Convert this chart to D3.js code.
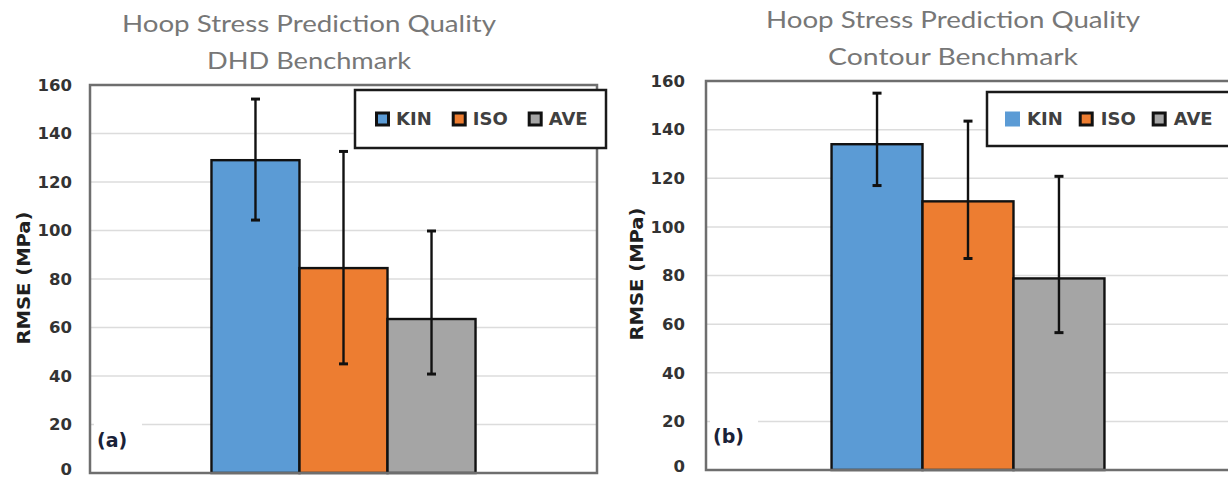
<!DOCTYPE html>
<html>
<head>
<meta charset="utf-8">
<script src="https://cdn.jsdelivr.net/npm/d3@7"></script>
<style>
  html, body { margin: 0; padding: 0; background: #fff; }
  svg { display: block; }
</style>
</head>
<body>
<svg id="chart" width="1228" height="479"></svg>
<script>
// ---- data ----
const series = ["KIN", "ISO", "AVE"];
const seriesColors = ["#5b9bd5", "#ed7d31", "#a5a5a5"];
const yTicks = [0, 20, 40, 60, 80, 100, 120, 140, 160];

const dhdTitle = ["Hoop Stress Prediction Quality", "DHD Benchmark"];
const dhdValues = [129, 84.5, 63.5];
const dhdLower = [104.3, 45, 40.8];
const dhdUpper = [154.2, 132.6, 99.8];

const contourTitle = ["Hoop Stress Prediction Quality", "Contour Benchmark"];
const contourValues = [134, 110.5, 78.8];
const contourLower = [117, 87, 56.5];
const contourUpper = [155, 143.5, 120.8];

const yTitle = "RMSE (MPa)";

// ---- drawing ----
const svg = d3.select("#chart");

function drawPanel(o) {
  const g = svg.append("g");
  const y = d3.scaleLinear().domain([0, 160]).range([o.bottom, o.top]);
  const xOuter = d3.scaleBand().domain([o.category]).range([o.left, o.right])
    .paddingInner(0).paddingOuter(0.46);
  const xInner = d3.scaleBand().domain(series).range([0, xOuter.bandwidth()]);

  // titles
  o.title.forEach((t, i) => {
    g.append("text")
      .attr("x", o.titleX).attr("y", o.titleY + i * 37)
      .attr("text-anchor", "middle")
      .attr("font-family", "Lato, 'Open Sans', sans-serif")
      .attr("font-size", 24)
      .attr("fill", "#777777")
      .attr("textLength", o.titleLens[i])
      .attr("lengthAdjust", "spacingAndGlyphs")
      .text(t);
  });

  // gridlines
  g.append("g").selectAll("line").data(yTicks.filter(d => d > 0 && d < 160)).join("line")
    .attr("x1", o.left).attr("x2", o.right)
    .attr("y1", d => y(d)).attr("y2", d => y(d))
    .attr("stroke", "#dcdcdc").attr("stroke-width", 1.5);

  // panel label with white background
  g.append("rect")
    .attr("x", o.left + 4).attr("y", y(20) - 12)
    .attr("width", 48).attr("height", 40)
    .attr("fill", "#fff");
  g.append("text")
    .attr("x", o.left + 7).attr("y", y(20) + 22)
    .attr("font-family", "'DejaVu Sans', sans-serif")
    .attr("font-weight", "bold")
    .attr("font-size", 19)
    .attr("fill", "#1a2238")
    .text(o.label);

  // y axis tick labels
  const yAxis = d3.axisLeft(y).tickValues(yTicks).tickSize(0).tickPadding(0);
  const ax = g.append("g").attr("transform", `translate(${o.tickX},0)`).call(yAxis);
  ax.select(".domain").remove();
  ax.selectAll("text")
    .attr("font-family", "'DejaVu Sans', sans-serif")
    .attr("font-weight", "bold")
    .attr("font-size", 16.5)
    .attr("fill", "#333333")
    .attr("dy", d => d === 0 ? "0.08em" : "0.32em");

  // y title
  g.append("text")
    .attr("transform", `translate(${o.yTitleX},${o.yTitleY}) rotate(-90)`)
    .attr("text-anchor", "middle")
    .attr("font-family", "'DejaVu Sans', sans-serif")
    .attr("font-weight", "bold")
    .attr("font-size", 18)
    .attr("fill", "#1f1f1f")
    .attr("textLength", 133)
    .attr("lengthAdjust", "spacingAndGlyphs")
    .text(yTitle);

  // bars
  const gx = xOuter(o.category);
  g.append("g").selectAll("rect").data(series).join("rect")
    .attr("x", d => gx + xInner(d))
    .attr("y", (d, i) => y(o.values[i]))
    .attr("width", xInner.bandwidth())
    .attr("height", (d, i) => y(0) - y(o.values[i]))
    .attr("fill", (d, i) => seriesColors[i])
    .attr("stroke", "#111").attr("stroke-width", 2.4);

  // error bars
  const eb = g.append("g").attr("stroke", "#111");
  series.forEach((s, i) => {
    const cx = gx + xInner(s) + xInner.bandwidth() / 2;
    eb.append("line").attr("x1", cx).attr("x2", cx)
      .attr("y1", y(o.upper[i])).attr("y2", y(o.lower[i])).attr("stroke-width", 2.4);
    [o.upper[i], o.lower[i]].forEach(v => {
      eb.append("line").attr("x1", cx - 4.5).attr("x2", cx + 4.5)
        .attr("y1", y(v)).attr("y2", y(v)).attr("stroke-width", 3);
    });
  });

  // frame
  g.append("rect")
    .attr("x", o.left).attr("y", o.top)
    .attr("width", o.right - o.left).attr("height", o.bottom - o.top)
    .attr("fill", "none").attr("stroke", "#6e6e6e").attr("stroke-width", 2.5);

  // legend
  const lg = g.append("g");
  lg.append("rect")
    .attr("x", o.legend.x).attr("y", o.legend.y)
    .attr("width", o.legend.w).attr("height", o.legend.h)
    .attr("fill", "#fff").attr("stroke", "#1a1a1a").attr("stroke-width", 2.5);
  let lx = o.legend.x0;
  const ly = o.legend.y + o.legend.h / 2;
  series.forEach((s, i) => {
    const bordered = !(o.legend.noBorder || []).includes(s);
    lg.append("rect")
      .attr("x", lx + (bordered ? 1.5 : 0)).attr("y", ly - 7.5 + (bordered ? 1.5 : 0))
      .attr("width", bordered ? 12 : 15).attr("height", bordered ? 12 : 15)
      .attr("fill", seriesColors[i])
      .attr("stroke", bordered ? "#111" : "none").attr("stroke-width", 3);
    const t = lg.append("text")
      .attr("x", lx + 15 + o.legend.gap).attr("y", ly)
      .attr("dy", "0.36em")
      .attr("font-family", "'DejaVu Sans', sans-serif")
      .attr("font-weight", "bold")
      .attr("font-size", 18)
      .attr("fill", "#404040")
      .text(s);
    lx += 15 + o.legend.gap + t.node().getComputedTextLength() + o.legend.spacing;
  });
}

drawPanel({
  category: "DHD", title: dhdTitle, titleX: 309, titleY: 32, titleLens: [374, 204],
  values: dhdValues, lower: dhdLower, upper: dhdUpper,
  left: 90, right: 597, top: 85, bottom: 473,
  tickX: 72, yTitleX: 30, yTitleY: 278, label: "(a)",
  legend: { x: 355, y: 90, w: 251, h: 58, x0: 375, gap: 6, spacing: 20 }
});

drawPanel({
  category: "Contour", title: contourTitle, titleX: 953, titleY: 28, titleLens: [374, 250],
  values: contourValues, lower: contourLower, upper: contourUpper,
  left: 706, right: 1230, top: 81, bottom: 470,
  tickX: 685, yTitleX: 643, yTitleY: 274, label: "(b)",
  legend: { x: 987, y: 92, w: 250, h: 54, x0: 1005, gap: 7, spacing: 16, noBorder: ["KIN"] }
});
</script>
</body>
</html>
